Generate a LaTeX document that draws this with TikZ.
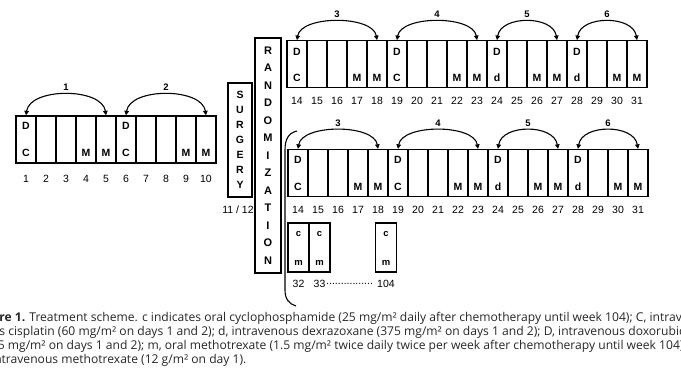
\documentclass[tikz,border=0pt]{standalone}
\usepackage{fontspec}
\setmainfont{Liberation Sans}
\newfontfamily\capfont{Open Sans}
\usetikzlibrary{arrows.meta, positioning, calc}

\begin{document}
\begin{tikzpicture}[
        x=1pt, y=-1pt,
        >={Triangle[length=4.5pt, width=4.5pt]},
        cell/.style={draw, line width=1.3pt, minimum width=20pt, minimum height=47pt, inner sep=0pt},
        drug/.style={font=\bfseries\fontsize{10.5}{11}\selectfont, inner sep=0pt},
        daynum/.style={font=\fontsize{10.5}{11}\selectfont, inner sep=0pt},
        cyc/.style={<->, line width=1.1pt},
        cyclab/.style={font=\bfseries\fontsize{9.5}{10}\selectfont, inner sep=1pt},
        vbox/.style={draw, line width=1.3pt, align=center, inner sep=0pt},
        capline/.style={anchor=base west, inner sep=0pt, font=\capfont\fontsize{12.1}{13}\selectfont, text=black!85}
    ]
    \useasboundingbox (0,0) rectangle (681,368);
    % weeks 1-10 before surgery
    \foreach \n/\t/\b in {1/D/C, 2//, 3//, 4//M, 5//M, 6/D/C, 7//, 8//, 9//M, 10//M} {
        \node[cell] (c\n) at (26+20*\n-20, 139.5) {};
        \node[drug] (c\n-t) at ($(c\n.north)+(0,11)$) {\t};
        \node[drug] (c\n-b) at ($(c\n.south)+(0,-11)$) {\b};
        \node[daynum] (c\n-n) at ($(c\n.south)+(0,15)$) {\n};
    }
    \draw[cyc] (c1.north) .. controls +(4,-28) and +(-4,-28) .. (c5.north) node[midway, above=2pt, cyclab] (cy1) {1};
    \draw[cyc] (c6.north) .. controls +(4,-28) and +(-4,-28) .. (c10.north) node[midway, above=2pt, cyclab] (cy2) {2};
    % surgery and randomization
    \node[vbox, minimum width=24pt, minimum height=114pt, font=\bfseries\fontsize{10.5}{15}\selectfont] (surg) at (240,140) {S\\U\\R\\G\\E\\R\\Y};
    \node[daynum] (surg-n) at (238,210) {11 / 12};
    \node[vbox, minimum width=26pt, minimum height=235pt, font=\bfseries\fontsize{11}{17.5}\selectfont] (rand) at (268,155.5) {R\\A\\N\\D\\O\\M\\I\\Z\\A\\T\\I\\O\\N};
    % weeks 14-31, both arms
    \foreach \n/\t/\b in {14/D/C, 15//, 16//, 17//M, 18//M, 19/D/C, 20//, 21//, 22//M, 23//M,
                          24/D/d, 25//, 26//M, 27//M, 28/D/d, 29//, 30//M, 31//M} {
        \node[cell] (t\n) at (297+20*\n-280, 64.25) {};
        \node[drug] (t\n-t) at ($(t\n.north)+(0,11.5)$) {\t};
        \node[drug] (t\n-b) at ($(t\n.south)+(0,-10.5)$) {\b};
        \node[daynum] (t\n-n) at ($(t\n.south)+(0,12.5)$) {\n};
        \node[cell] (b\n) at (298+20*\n-280, 173) {};
        \node[drug] (b\n-t) at ($(b\n.north)+(0,11.5)$) {\t};
        \node[drug] (b\n-b) at ($(b\n.south)+(0,-10.5)$) {\b};
        \node[daynum] (b\n-n) at ($(b\n.south)+(0,12.5)$) {\n};
    }
    \foreach \r in {t,b} {
        \draw[cyc] (\r14.north) .. controls +(4,-25) and +(-4,-25) .. (\r18.north) node[midway, above=2pt, cyclab] (\r cy3) {3};
        \draw[cyc] (\r19.north) .. controls +(4,-25) and +(-4,-25) .. (\r23.north) node[midway, above=2pt, cyclab] (\r cy4) {4};
        \draw[cyc] (\r24.north) .. controls +(4,-25) and +(-4,-25) .. (\r27.north) node[midway, above=2pt, cyclab] (\r cy5) {5};
        \draw[cyc] (\r28.north) .. controls +(4,-25) and +(-4,-25) .. (\r31.north) node[midway, above=2pt, cyclab] (\r cy6) {6};
    }
    % maintenance weeks
    \foreach \n/\x in {32/298.5, 33/319.5, 104/386} {
        \node[cell, minimum width=21pt, minimum height=49pt] (s\n) at (\x,247.5) {};
        \node[drug, font=\bfseries\fontsize{9.5}{10}\selectfont] (s\n-t) at ($(s\n.north)+(0,12)$) {c};
        \node[drug, font=\bfseries\fontsize{9.5}{10}\selectfont] (s\n-b) at ($(s\n.south)+(0,-10)$) {m};
        \node[daynum] (s\n-n) at ($(s\n.south)+(0,11)$) {\n};
    }
    \node[daynum, anchor=west] (dots) at ($(s33-n.east)+(0.5,0)$) {................};
    \draw[line width=1.1pt] (297,131) .. controls (288,133) and (285,140) .. (285,150) -- (285,290)
        .. controls (285,299) and (289,304) .. (296,306);
    % caption
    \begin{scope}
        \clip (0,0) rectangle (681,368);
        \node[capline] (cap1) at (-26,321) {\textbf{Figure 1.} Treatment scheme. c indicates oral cyclophosphamide (25 mg/m² daily after chemotherapy until week 104); C, intrave-};
        \node[capline] (cap2) at (-23,335) {nous cisplatin (60 mg/m² on days 1 and 2); d, intravenous dexrazoxane (375 mg/m² on days 1 and 2); D, intravenous doxorubicin};
        \node[capline] (cap3) at (-23,349) {(37.5 mg/m² on days 1 and 2); m, oral methotrexate (1.5 mg/m² twice daily twice per week after chemotherapy until week 104);};
        \node[capline] (cap4) at (-26,363) {M, intravenous methotrexate (12 g/m² on day 1).};
    \end{scope}
\end{tikzpicture}
\end{document}
